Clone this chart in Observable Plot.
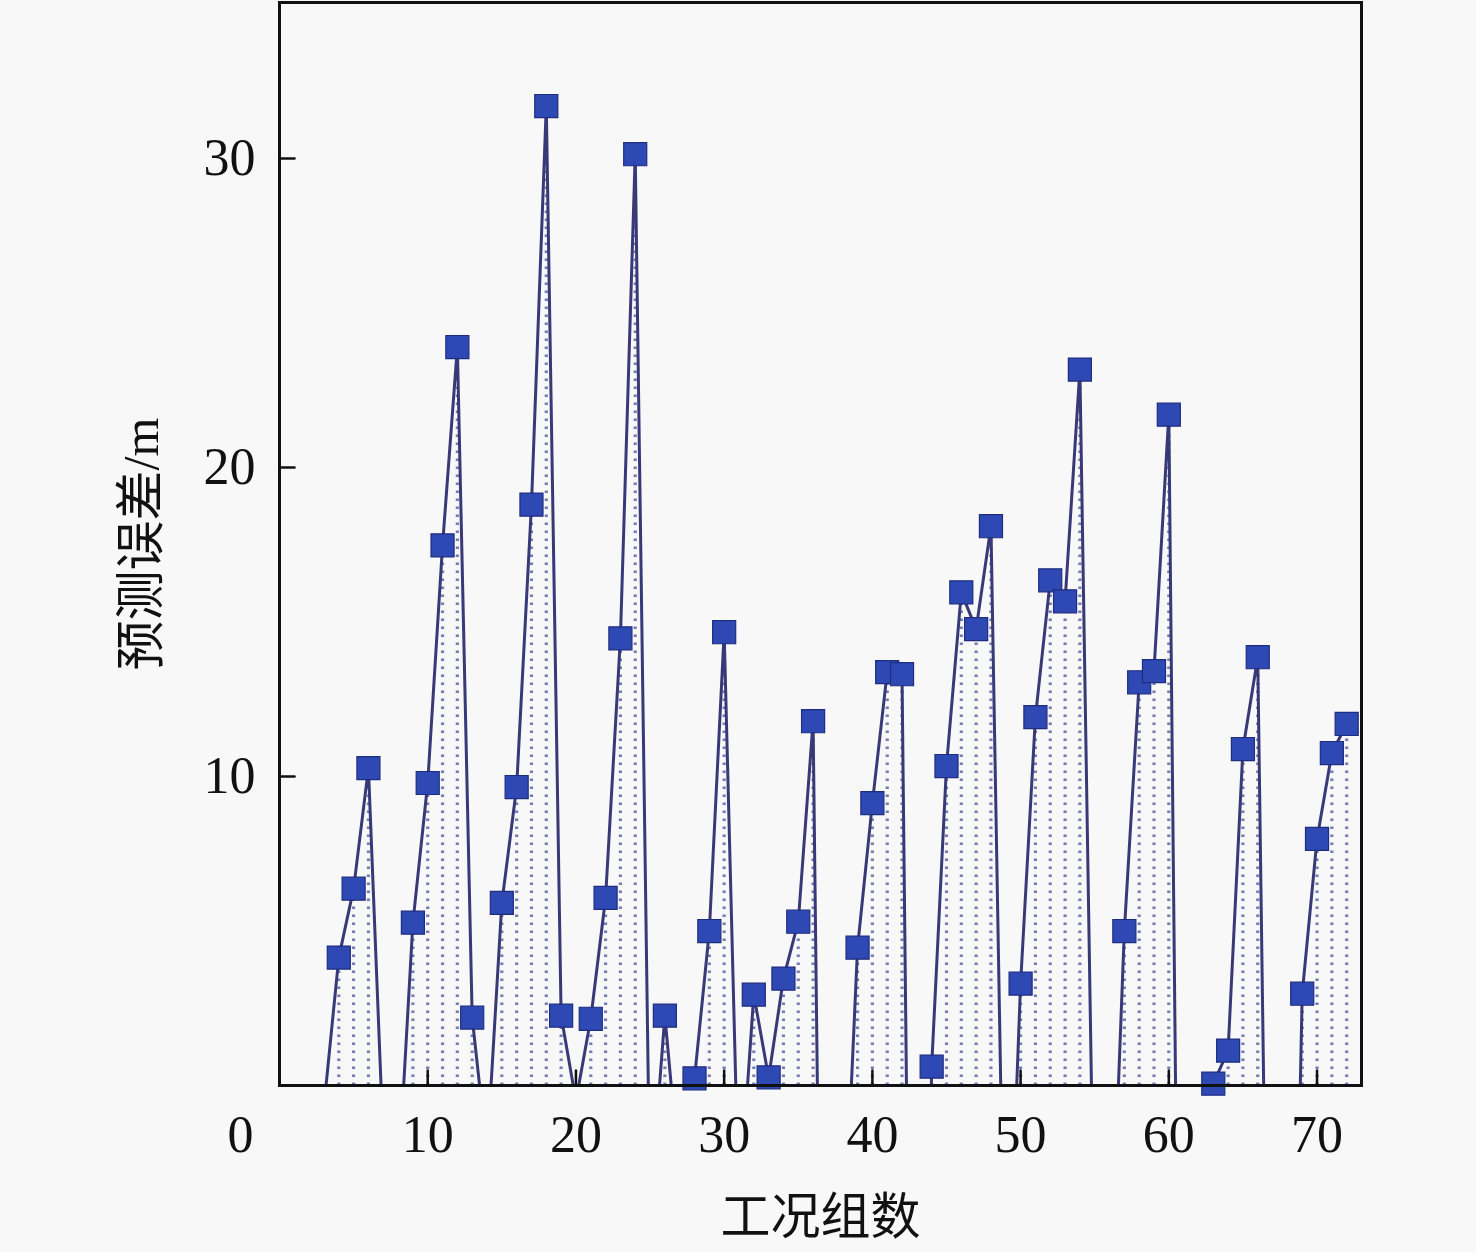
<!DOCTYPE html>
<html><head><meta charset="utf-8">
<script src="https://cdn.jsdelivr.net/npm/d3@7"></script>
<script src="https://cdn.jsdelivr.net/npm/@observablehq/plot@0.6"></script>
<style>
html,body{margin:0;padding:0;background:#f8f8f8;}
#chart svg{display:block;}
</style></head><body><div id="chart"></div>
<script>
// 工况组数 (case number)
const cases = [3,4,5,6,7,8,9,10,11,12,13,14,15,16,17,18,19,20,21,22,23,24,25,26,27,28,29,30,31,32,33,34,35,36,37,38,39,40,41,42,43,44,45,46,47,48,49,50,51,52,53,54,55,56,57,58,59,60,61,62,63,64,65,66,67,68,69,70,71,72];
// 预测误差/m (prediction error; negative values fall below the visible range)
const errors = [-0.67,4.14,6.37,10.27,-1.8,-3.2,5.27,9.79,17.48,23.9,2.2,-2.2,5.91,9.66,18.8,31.7,2.26,-0.5,2.16,6.07,14.47,30.14,-4,2.26,-3,0.23,5.0,14.67,-4,2.94,0.26,3.46,5.3,11.79,-29,-6.2,4.46,9.14,13.38,13.31,-31,0.61,10.34,15.96,14.77,18.1,-9.3,3.3,11.92,16.35,15.67,23.17,-6.5,-7.5,5.0,13.05,13.41,21.71,-26,-12,0.06,1.13,10.89,13.86,-20.8,-20,2.97,7.98,10.76,11.7];
const xTicks = [10,20,30,40,50,60,70];
const yTicks = [10,20,30];
const xDomain = [0,73];
const yDomain = [0,35.05];

const data = cases.map((c,i)=>({x:c, v:errors[i]}));
const visible = data.filter(d=>d.v>=0);

const serif = "'Liberation Serif','Times New Roman',serif";
const cjk = "'Liberation Serif','Noto Sans CJK SC',serif";
const tickShape = {draw(ctx, l){ ctx.moveTo(0,0); ctx.lineTo(0,-l); }};

const chart = Plot.plot({
  width:1476, height:1252,
  marginLeft:279, marginRight:115, marginTop:2, marginBottom:167,
  style:{background:"#f8f8f8", fontFamily:serif, color:"#111"},
  x:{domain:xDomain},
  y:{domain:yDomain},
  marks:[
    Plot.ruleX(visible,{x:"x",y1:0,y2:"v",stroke:"#737cb2",strokeWidth:3.2,strokeDasharray:"2.6,5.4",clip:true}),
    Plot.line(data,{x:"x",y:"v",stroke:"#393978",strokeWidth:3,clip:true}),
    Plot.dot(visible,{x:"x",y:"v",symbol:"square",r:13,fill:"#2f49b4",stroke:"#1f2d80",strokeWidth:1.2}),
    Plot.frame({stroke:"#111",strokeWidth:3}),
    // inward major ticks
    Plot.vector(xTicks,{x:d=>d,frameAnchor:"bottom",anchor:"start",rotate:0,length:15,shape:tickShape,stroke:"#111",strokeWidth:2.5}),
    Plot.vector(yTicks,{y:d=>d,frameAnchor:"left",anchor:"start",rotate:90,length:15,shape:tickShape,stroke:"#111",strokeWidth:2.5}),
    Plot.axisX(xTicks,{tickSize:0,tickPadding:30,fontSize:52,fontFamily:serif,
      label:"工况组数",labelAnchor:"center",labelOffset:148,labelArrow:"none"}),
    Plot.axisY(yTicks,{tickSize:0,tickPadding:24,fontSize:52,fontFamily:serif,
      label:"预测误差/m",labelAnchor:"center",labelOffset:157,labelArrow:"none"}),
    Plot.text(["0"],{frameAnchor:"bottom-left",textAnchor:"middle",dx:-39,dy:50,lineAnchor:"middle",fontSize:52,fontFamily:serif,fill:"#111"})
  ]
});
chart.querySelectorAll("g[aria-label='x-axis label'] text, g[aria-label='y-axis label'] text").forEach(t=>{
  t.setAttribute("font-family",cjk); t.setAttribute("font-size","50");
});
document.getElementById("chart").appendChild(chart);
</script>
</body></html>
